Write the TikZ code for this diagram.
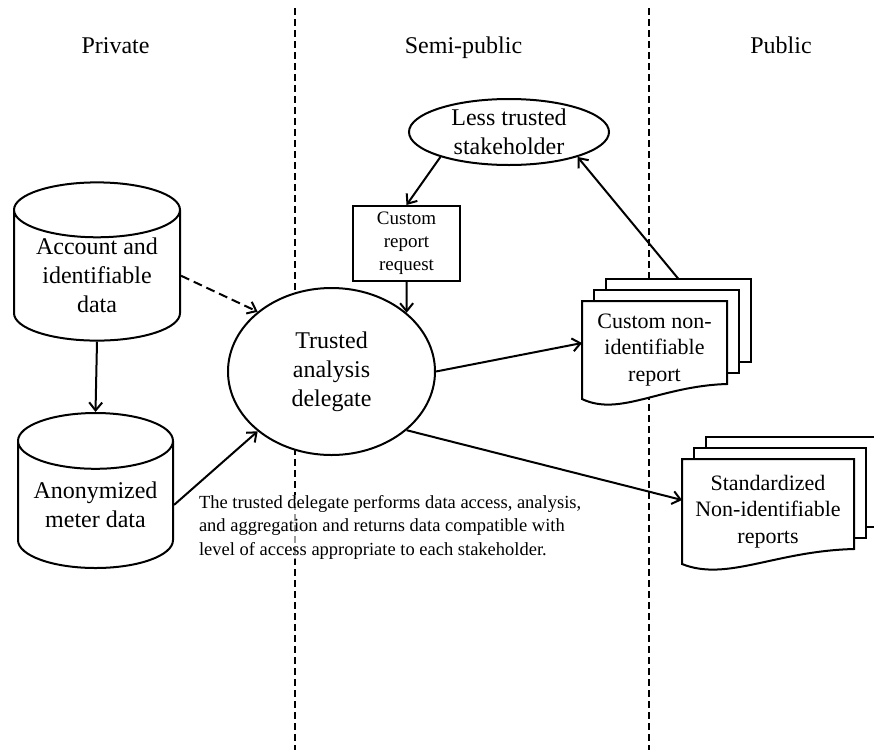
\documentclass[tikz,border=0pt]{standalone}
\usepackage{fontspec}
\setmainfont{Liberation Serif}
\usetikzlibrary{shapes.geometric,arrows.meta,calc,backgrounds}

\begin{document}
\begin{tikzpicture}[x=1pt,y=-1pt,line width=2pt,
	big/.style={font=\fontsize{24}{29}\selectfont},
	db/.style={cylinder, shape border rotate=90, aspect=0.45, draw, fill=white, align=center, big, inner sep=0pt, anchor=shape center},
	oval/.style={ellipse, draw, fill=white, align=center, big, inner sep=0pt},
	doc/.style={align=center, inner sep=0pt, font=\fontsize{22}{26.5}\selectfont},
	sheet/.style={draw, fill=white, line width=2pt},
	arr/.style={-{Straight Barb[length=8pt,width=13pt]}},
	divider/.style={line width=2pt, dash pattern=on 7pt off 4pt}]

	\useasboundingbox (0,0) rectangle (874,750);

	\node[big, anchor=base] (priv) at (115.5,53) {Private};
	\node[big, anchor=base] (semi) at (463.5,53) {Semi-public};
	\node[big, anchor=base] (pub) at (781,53) {Public};

	\coordinate (d1top) at (295,8);
	\coordinate (d1bot) at (295,750);
	\coordinate (d2top) at (649,8);
	\coordinate (d2bot) at (649,750);

	\node[db, minimum width=166, minimum height=153] (acct) at (97,261.5) {Account and\\identifiable\\data};
	\node[db, minimum width=155, minimum height=155] (anon) at (95.5,490.5) {Anonymized\\meter data};
	\node[oval, minimum width=207, minimum height=167] (trusted) at (331.5,371.5) {Trusted\\analysis\\delegate};
	\node[oval, minimum width=200, minimum height=66] (lesstr) at (509,132) {Less trusted\\stakeholder};
	\node[draw, fill=white, align=center, minimum width=107, minimum height=75, inner sep=0pt,
		font=\fontsize{19}{23}\selectfont] (req) at (406.5,243.5) {Custom\\report\\request};
	\node[doc, minimum width=143, minimum height=96] (custrep) at (654.5,350) {Custom non-\\identifiable\\report};
	\node[doc, minimum width=170, minimum height=103] (stdrep) at (768,511.5) {Standardized\\Non-identifiable\\reports};

	\node[anchor=north west, align=left, inner sep=0pt, fill=white, fill opacity=0.6, text opacity=1,
		font=\fontsize{18.5}{23.5}\selectfont] (note) at (198,494)
		{The trusted delegate performs data access, analysis,\\and aggregation and returns data compatible with\\level of access appropriate to each stakeholder.};

	\draw[arr] (acct.south) -- (anon.north);
	\draw[arr, dash pattern=on 9pt off 5pt] (acct.east) -- (trusted.141);
	\draw[arr] (anon.east) -- (trusted.-141);
	\draw[arr] (lesstr.-160) -- (req.north);
	\draw[arr] (req.south) -- (trusted.38);
	\draw[arr] (trusted.east) -- ([yshift=7pt]custrep.west);
	\draw[arr] (trusted.-38) -- ([yshift=11.5pt]stdrep.west);
	\draw[arr] ([shift={(24pt,22pt)}]custrep.north) -- (lesstr.-20);

	\begin{scope}[on background layer]
		\draw[divider] (d1top) -- (d1bot);
		\draw[divider] (d2top) -- (d2bot);
		\foreach \d in {custrep,stdrep}{
			\foreach \k in {2,1}
				\path[sheet] ([shift={(\k*12pt,\k*11pt)}]\d.north west) rectangle ([shift={(\k*12pt,\k*11pt+15pt)}]\d.south east);
			\path[sheet] (\d.south west) -- (\d.north west) -- (\d.north east) -- ([yshift=15pt]\d.south east)
				.. controls ($(\d.south west)!.54!(\d.south east)+(0,13pt)$) and ($(\d.south west)!.26!(\d.south east)+(0,-18pt)$) .. (\d.south west) -- cycle;
		}
	\end{scope}
\end{tikzpicture}
\end{document}
